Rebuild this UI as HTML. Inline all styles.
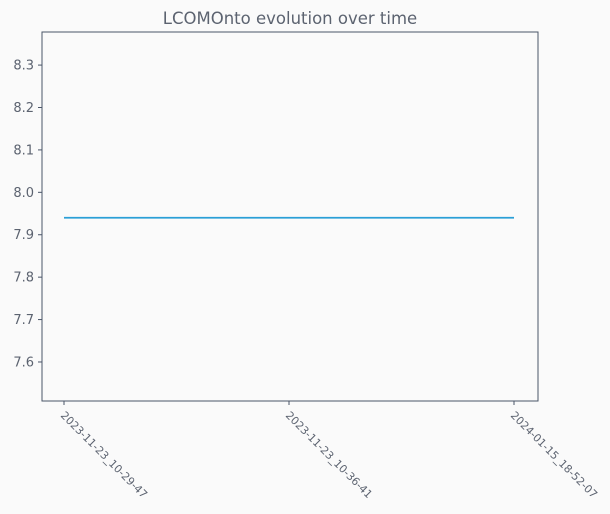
<!DOCTYPE html>
<html><head><meta charset="utf-8"><style>
body{margin:0;background:#fafafa;}
svg{display:block;font-family:"DejaVu Sans","Liberation Sans",sans-serif;}
</style></head><body>
<svg id="chart" width="610" height="514">
<rect width="610" height="514" fill="#fafafa"/>
<text x="290" y="24" text-anchor="middle" font-size="16.5" fill="#5c6370">LCOMOnto evolution over time</text>
<g id="axes"></g>
</svg>
<script>
const categories=["2023-11-23_10-29-47","2023-11-23_10-36-41","2024-01-15_18-52-07"];
const values=[7.94,7.94,7.94];
const yTicks=[7.6,7.7,7.8,7.9,8.0,8.1,8.2,8.3];
const L=42,R=538,T=32,B=401,yMin=7.508,yMax=8.378;
const ns="http://www.w3.org/2000/svg";
const g=document.getElementById('axes');
function x(i){return 64+i*(514-64)/(categories.length-1);}
function y(v){return B-(v-yMin)/(yMax-yMin)*(B-T);}
function mk(t,a,p){const e=document.createElementNS(ns,t);for(const k in a)e.setAttribute(k,a[k]);(p||g).appendChild(e);return e;}
const frame=mk('rect',{x:L,y:T,width:R-L,height:B-T,fill:'none',stroke:'#4a5568','stroke-width':1});


yTicks.forEach(v=>{
 const tk=mk('line',{x1:L-4,x2:L,y1:y(v),y2:y(v),stroke:'#4a5568'});
 
 
 const t=mk('text',{x:L-8,y:y(v)+4.5,'text-anchor':'end','font-size':13,fill:'#5c6370'});
 t.textContent=v.toFixed(1);
 
 
});
categories.forEach((c,i)=>{
 const tk=mk('line',{x1:x(i),x2:x(i),y1:B,y2:B+4,stroke:'#4a5568'});
 
 
 const t=mk('text',{x:0,y:0,'font-size':10.8,fill:'#5c6370',transform:`translate(${x(i)-4},${B+15}) rotate(45)`});
 t.textContent=c;
 
 
});
const pts=values.map((v,i)=>x(i)+','+y(v)).join(' ');
const line=mk('polyline',{points:pts,fill:'none',stroke:'#2a9fd6','stroke-width':1.8});


</script>
</body></html>
